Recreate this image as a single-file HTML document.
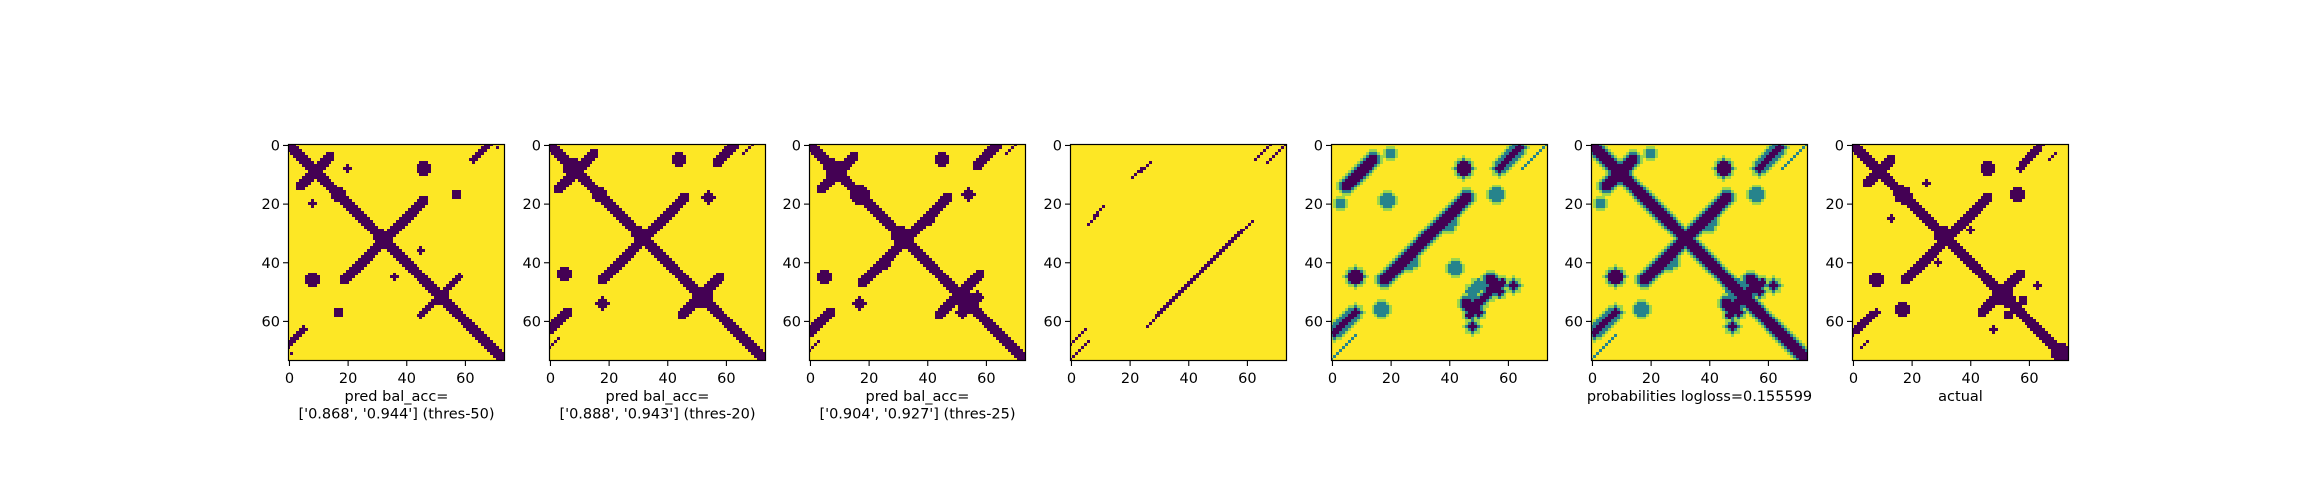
<!DOCTYPE html>
<html><head><meta charset="utf-8">
<style>
html,body{margin:0;padding:0;background:#fff;}
#wrap{position:relative;width:2300px;height:500px;overflow:hidden;}
canvas{position:absolute;image-rendering:pixelated;}
svg{position:absolute;left:0;top:0;}
text{font-family:"DejaVu Sans","Liberation Sans",sans-serif;font-size:14.5px;fill:#000;}
</style></head>
<body>
<div id="wrap">
<svg id="ax" width="2300" height="500"></svg>
</div>
<script>
// ---- data ----
const N = 74;
const panelLefts = [288, 549, 809, 1070, 1331, 1591, 1852];
const tickValues = [0, 20, 40, 60];
const tickLabels = ["0", "20", "40", "60"];
const xLabels = [
  ["pred bal_acc=", "['0.868', '0.944'] (thres-50)"],
  ["pred bal_acc=", "['0.888', '0.943'] (thres-20)"],
  ["pred bal_acc=", "['0.904', '0.927'] (thres-25)"],
  [],
  [],
  ["probabilities logloss=0.155599"],
  ["actual"]
];
// segments: [r0,c0,r1,c1,halfWidth]; blobs: [r,c,radius]; mirrored about main diagonal
const segActual = [[0,0,73,73,1.7],[5,13,13,5,1.5],[18,46,46,18,1.6],[44,57,56,45,1.5],[0,64,8,57,1.4],[3,69,5,67,0.6]];
const blobActual = [[71,71,3.2],[9,9,2.8],[17,17,3],[31,31,3.4],[52,52,3],[8,46,2.5],[17,56,2.4],[24,41,1],[40,29,1],[48,63,1.1],[13,25,1],[53,58,1.5]];
const segPred1 = [[0,0,73,73,1.6],[4,14,14,4,1.5],[19,46,46,19,1.5],[45,58,58,45,1.4],[0,68,5,63,1.3],[1,71,1,71,0.6]];
const blobPred1 = [[9,9,2.8],[17,17,2.8],[31,31,2.8],[52,52,2.8],[8,46,2.4],[17,57,1.6],[23,41,1],[20,8,1.2],[45,36,1]];
const segPred2 = [[0,0,73,73,1.7],[3,15,15,3,1.6],[18,46,46,18,1.6],[45,58,58,45,1.5],[0,63,6,57,1.5],[0,69,3,66,0.7]];
const blobPred2 = [[8,8,3.2],[17,17,2.8],[31,31,3],[52,52,3.2],[5,44,2.6],[18,54,2],[25,40,1.4]];
const segPred3 = [[0,0,73,73,1.8],[4,15,14,5,1.7],[18,47,46,19,1.7],[44,58,57,45,1.6],[0,64,7,57,1.6],[0,70,3,67,0.7]];
const blobPred3 = [[8,8,3],[17,17,3.2],[31,31,3.2],[52,52,3.4],[5,45,2.6],[17,54,2.2],[26,41,1.4],[52,57,2]];
const segPred4 = [[6,27,11,21,0.5],[0,68,5,63,0.5],[29,58,62,26,0.5],[73,0,67,6,0.5]];
const blobPred4 = [];
const segProb = [[5,14,13,6,1.6],[18,46,45,19,1.5],[1,64,8,57,1.4],[47,56,58,47,1.1],[73,0,65,8,0.4]];
const blobProb = [[8,45,2.3],[46,54,1.8],[62,48,1.3],[50,57,1.2]];
const tealProb = [[17,56,1.5],[19,19,1.8],[42,42,1.8],[26,41,0.8],[40,28,0.8],[3,20,0.8],[48,50,1.2]];
const diagProb = [[0,0,73,73,1.6]];
const panelSegs = [segPred1, segPred2, segPred3, segPred4, segProb, segProb.concat(diagProb), segActual];
const panelBlobs = [blobPred1, blobPred2, blobPred3, blobPred4, blobProb, blobProb, blobActual];
const panelTeal = [[],[],[],[],tealProb,tealProb,[]];
const panelSoft = [false,false,false,false,true,true,false];

// ---- geometry ----
const TOP = 144, SIZE = 217, CELL = SIZE / N;
function xs(p, v){ return panelLefts[p] + (v + 0.5) * CELL; }
function ys(v){ return TOP + (v + 0.5) * CELL; }

const vir = [[0,[68,1,84]],[0.25,[59,82,139]],[0.5,[33,145,140]],[0.75,[94,201,98]],[1,[253,231,37]]];
function cmap(t){
  for(let i=1;i<vir.length;i++){
    if(t<=vir[i][0]){
      const a=vir[i-1],b=vir[i],f=(t-a[0])/(b[0]-a[0]);
      return 'rgb('+a[1].map((x,k)=>Math.round(x+(b[1][k]-x)*f)).join(',')+')';
    }
  }
  return 'rgb(253,231,37)';
}
function segDist(r,c,s){
  const dr=s[2]-s[0], dc=s[3]-s[1], L=dr*dr+dc*dc;
  let t = L ? ((r-s[0])*dr+(c-s[1])*dc)/L : 0; t=Math.max(0,Math.min(1,t));
  const pr=s[0]+t*dr, pc=s[1]+t*dc; return Math.hypot(r-pr,c-pc);
}
function buildGrid(p){
  const g=[]; for(let r=0;r<N;r++){ g.push(new Array(N).fill(1)); }
  const shapes=[];
  const thinVal = panelSoft[p] ? 0.45 : 0;
  panelSegs[p].forEach(s=>{ const cv=s[4]<0.5?thinVal:0; shapes.push([s,s[4],cv]); shapes.push([[s[1],s[0],s[3],s[2]],s[4],cv]); });
  panelBlobs[p].forEach(b=>{ shapes.push([[b[0],b[1],b[0],b[1]],b[2],0]); shapes.push([[b[1],b[0],b[1],b[0]],b[2],0]); });
  panelTeal[p].forEach(b=>{ shapes.push([[b[0],b[1],b[0],b[1]],b[2],0.45]); shapes.push([[b[1],b[0],b[1],b[0]],b[2],0.45]); });
  for(let r=0;r<N;r++)for(let c=0;c<N;c++){
    let v=1;
    shapes.forEach(([s,w,core])=>{
      const d=segDist(r,c,s);
      if(d<=w) v=Math.min(v,core);
      else if(panelSoft[p] && w>=0.5){
        if(d<=w+0.8) v=Math.min(v,Math.max(core,0.42));
        else if(d<=w+1.7) v=Math.min(v,0.85);
      }
    });
    g[r][c]=v;
  }
  return g;
}

const wrap=document.getElementById('wrap');
const svg=document.getElementById('ax');
const NS='http://www.w3.org/2000/svg';
function mk(tag,attrs){ const e=document.createElementNS(NS,tag); for(const k in attrs) e.setAttribute(k,attrs[k]); svg.appendChild(e); return e; }

panelLefts.forEach((left,p)=>{
  const cv=document.createElement('canvas');
  
  
  cv.width=SIZE; cv.height=SIZE; cv.style.left=left+'px'; cv.style.top=TOP+'px';
  wrap.insertBefore(cv, svg);
  const ctx=cv.getContext('2d');
  const g=buildGrid(p);
  for(let r=0;r<N;r++)for(let c=0;c<N;c++){
    ctx.fillStyle=cmap(g[r][c]);
    const x0=Math.floor(xs(p,c-0.5)-left), x1=Math.floor(xs(p,c+0.5)-left);
    const y0=Math.floor(ys(r-0.5)-TOP), y1=Math.floor(ys(r+0.5)-TOP);
    ctx.fillRect(x0,y0,Math.max(1,x1-x0),Math.max(1,y1-y0));
  }
  const fr=mk('rect',{x:left+0.5,y:TOP+0.5,width:SIZE-1,height:SIZE-1,fill:'none',stroke:'#000','stroke-width':1.2});
  
  
  tickValues.forEach((v,i)=>{
    const x=xs(p,v), y=ys(v);
    const t1=mk('line',{x1:x,y1:TOP+SIZE,x2:x,y2:TOP+SIZE+5,stroke:'#000','stroke-width':1.1});
    
    
    const l1=mk('text',{x:x,y:TOP+SIZE+22,'text-anchor':'middle'}); l1.textContent=tickLabels[i];
    
    
    const t2=mk('line',{x1:left-5,y1:y,x2:left,y2:y,stroke:'#000','stroke-width':1.1});
    
    
    const l2=mk('text',{x:left-8,y:y+5,'text-anchor':'end'}); l2.textContent=tickLabels[i];
    
    
  });
  xLabels[p].forEach((s,i)=>{
    const t=mk('text',{x:left+SIZE/2,y:401+i*17.5,'text-anchor':'middle'}); t.textContent=s;
    
    
  });
});
</script>
</body></html>
